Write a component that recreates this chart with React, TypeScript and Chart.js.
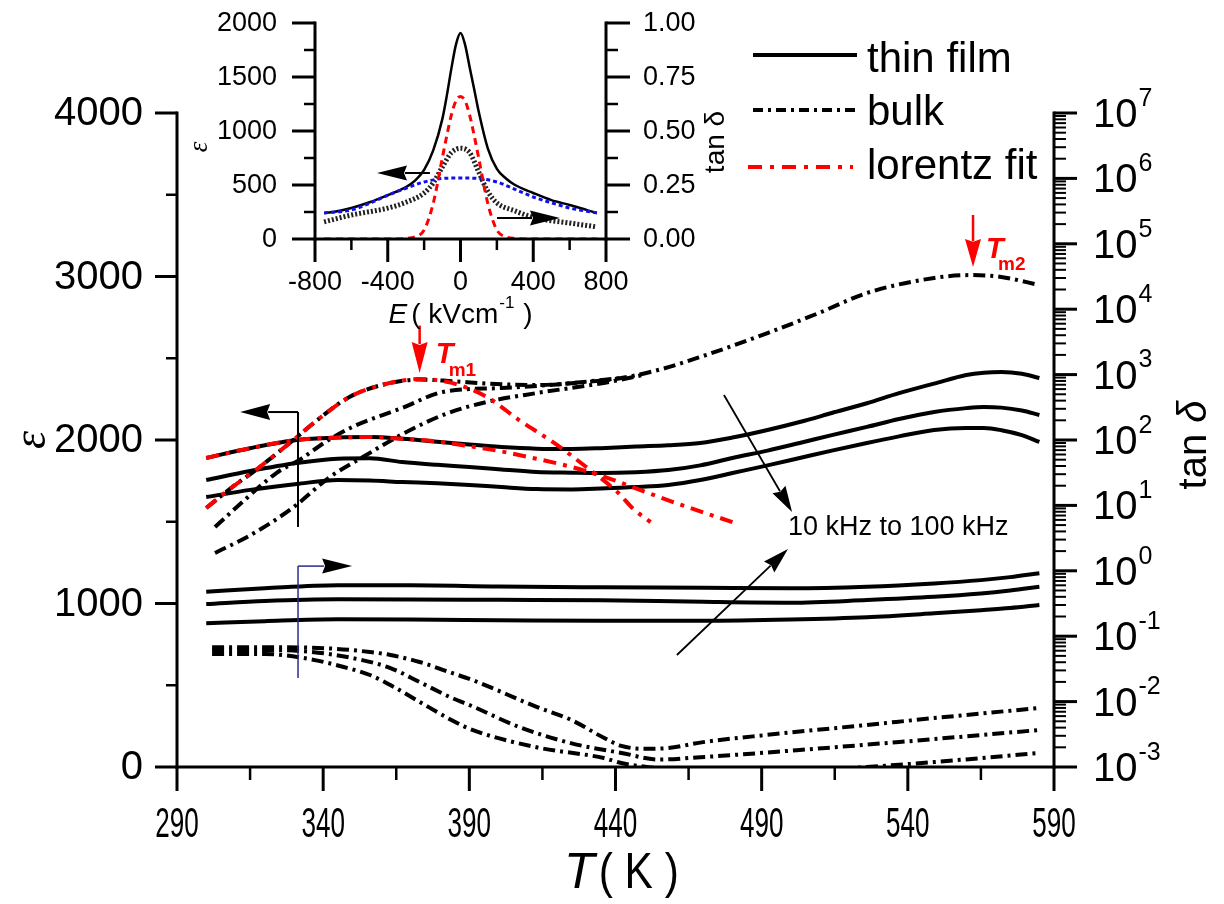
import React, { useEffect, useRef } from 'react';
import { Chart, registerables } from 'chart.js';
Chart.register(...registerables);

const FF = '"Liberation Sans", Arial, Helvetica, sans-serif';

// ---------------- main chart data ----------------
// thin film permittivity (three frequencies)
const tfT = [300, 315, 331, 345, 356, 367, 379, 390, 401, 413, 425, 435, 447, 458, 469, 480, 492, 503, 514, 526, 537, 549, 560, 566, 572, 579, 585];
const tfEps1 = [1890, 1950, 2000, 2015, 2018, 2008, 1990, 1972, 1957, 1947, 1945, 1950, 1960, 1968, 1982, 2015, 2061, 2110, 2165, 2225, 2287, 2345, 2398, 2412, 2416, 2405, 2379];
const tfEps2 = [1755, 1810, 1859, 1885, 1888, 1865, 1848, 1835, 1820, 1804, 1800, 1798, 1803, 1816, 1845, 1890, 1935, 1982, 2030, 2080, 2128, 2171, 2195, 2202, 2198, 2180, 2153];
const tfEps3 = [1651, 1695, 1731, 1755, 1752, 1743, 1735, 1725, 1712, 1700, 1698, 1703, 1712, 1725, 1755, 1798, 1845, 1890, 1935, 1982, 2022, 2061, 2073, 2073, 2060, 2030, 1988];

// thin film loss tangent
const tfLossT = [300, 320, 345, 370, 400, 435, 470, 500, 526, 549, 565, 575, 585];
const tfLoss1 = [0.48, 0.54, 0.60, 0.60, 0.575, 0.56, 0.55, 0.54, 0.57, 0.64, 0.72, 0.80, 0.92];
const tfLoss2 = [0.31, 0.345, 0.366, 0.365, 0.36, 0.355, 0.335, 0.325, 0.357, 0.40, 0.45, 0.50, 0.57];
const tfLoss3 = [0.158, 0.17, 0.181, 0.18, 0.176, 0.172, 0.172, 0.18, 0.195, 0.224, 0.25, 0.27, 0.30];

// bulk permittivity
const bkTopT = [300, 309, 317, 329, 338, 349, 360, 373, 384, 396, 413, 430, 442, 455, 469, 492, 510, 526, 549, 562, 572, 585];
const bkTop = [1584, 1713, 1817, 1988, 2122, 2263, 2336, 2370, 2360, 2345, 2336, 2355, 2379, 2430, 2508, 2654, 2780, 2899, 2991, 3009, 2997, 2948];
const bkMidT = [303, 312, 324, 332, 341, 350, 367, 381, 401, 420, 442];
const bkMid = [1468, 1615, 1798, 1880, 1990, 2080, 2196, 2294, 2318, 2340, 2379];
const bkBotT = [303, 314, 322, 331, 342, 354, 367, 382, 396, 413, 436, 450];
const bkBot = [1309, 1407, 1492, 1605, 1770, 1900, 2035, 2160, 2233, 2287, 2349, 2400];

// bulk loss tangent
const bkLossTopT = [302, 320, 342, 356, 363, 373, 384, 391, 413, 425, 436, 442, 450, 458, 470, 492, 526, 549, 585];
const bkLossTop = [0.068, 0.068, 0.065, 0.0573, 0.0516, 0.0403, 0.0274, 0.0214, 0.0083, 0.0052, 0.0028, 0.0021, 0.0019, 0.00195, 0.0024, 0.0031, 0.0044, 0.0056, 0.008];
const bkLossMidT = [302, 320, 335, 350, 363, 373, 384, 391, 407, 425, 442, 455, 469, 503, 537, 585];
const bkLossMid = [0.0615, 0.0615, 0.058, 0.0464, 0.0326, 0.0199, 0.0114, 0.0085, 0.0041, 0.0023, 0.00164, 0.0013, 0.00141, 0.00182, 0.00241, 0.00368];
const bkLossBotT = [302, 320, 335, 347, 356, 363, 373, 384, 391, 413, 436, 442, 455, 470, 500, 526, 549, 585];
const bkLossBot = [0.0534, 0.0534, 0.045, 0.0338, 0.0255, 0.0179, 0.0099, 0.0052, 0.0037, 0.002, 0.00137, 0.00115, 0.00095, 0.0008, 0.00085, 0.001, 0.00119, 0.00164];

// Lorentz fits
const lzBulkT = [300, 309, 317, 329, 338, 349, 360, 373, 384, 396, 407, 419, 430, 441, 446, 452];
const lzBulk = [1584, 1713, 1817, 1988, 2122, 2263, 2336, 2373, 2349, 2263, 2122, 1982, 1835, 1676, 1580, 1498];
const lzFilmT = [300, 315, 331, 345, 355, 367, 379, 390, 401, 413, 425, 437, 449, 463, 480];
const lzFilm = [1890, 1950, 2000, 2015, 2018, 2008, 1990, 1962, 1930, 1885, 1835, 1770, 1690, 1600, 1498];

// axes ticks
const xMajor = [290, 340, 390, 440, 490, 540, 590];
const xMinor = [315, 365, 415, 465, 515, 565];
const yMajor = [0, 1000, 2000, 3000, 4000];
const yMinor = [500, 1500, 2500, 3500];
const rExps = [-3, -2, -1, 0, 1, 2, 3, 4, 5, 6, 7];

// ---------------- inset data ----------------
const inE = [-750, -700, -600, -500, -400, -300, -250, -200, -150, -100, -75, -50, -25, 0, 25, 50, 75, 100, 150, 200, 250, 300, 400, 500, 600, 700, 750];
const inEps = [241, 250, 287, 340, 407, 481, 540, 640, 820, 1110, 1330, 1580, 1800, 1907, 1800, 1593, 1390, 1180, 840, 650, 560, 500, 426, 360, 315, 265, 241];
const blueE = [-750, -600, -500, -400, -300, -200, -100, 0, 100, 200, 300, 400, 500, 600, 750];
const blueFit = [241, 269, 330, 405, 470, 528, 560, 565, 560, 528, 460, 389, 335, 287, 241];
const redE = [-750, -400, -300, -250, -200, -150, -100, -75, -50, -25, 0, 25, 50, 75, 100, 150, 200, 250, 300, 400, 750];
const redFit = [0, 0, 5, 20, 83, 330, 750, 960, 1150, 1280, 1320, 1280, 1150, 960, 750, 330, 83, 20, 5, 0, 0];
const lossE = [-750, -600, -400, -300, -200, -150, -100, -50, 0, 50, 100, 150, 200, 300, 400, 600, 750];
const lossIn = [0.079, 0.111, 0.143, 0.17, 0.213, 0.26, 0.333, 0.40, 0.42, 0.40, 0.31, 0.22, 0.167, 0.13, 0.10, 0.074, 0.056];
const inXMajor = [-800, -400, 0, 400, 800];
const inXMinor = [-600, -200, 200, 600];
const inYMajor = [0, 500, 1000, 1500, 2000];
const inYMinor = [250, 750, 1250, 1750];
const inRMajor = [0, 0.25, 0.5, 0.75, 1.0];
const inRMinor = [0.125, 0.375, 0.625, 0.875];

// ---------------- helpers ----------------
function pts(xs: number[], ys: number[]) {
  return xs.map((x, i) => ({ x, y: ys[i] }));
}
function seg(ctx: CanvasRenderingContext2D, a: number, b: number, c: number, d: number) {
  ctx.beginPath();
  ctx.moveTo(a, b);
  ctx.lineTo(c, d);
  ctx.stroke();
}
function textScaled(ctx: CanvasRenderingContext2D, t: string, x: number, y: number, sx: number, align: CanvasTextAlign) {
  ctx.save();
  ctx.translate(x, y);
  ctx.scale(sx, 1);
  ctx.textAlign = align;
  ctx.fillText(t, 0, 0);
  ctx.restore();
}
function arrow(ctx: CanvasRenderingContext2D, x1: number, y1: number, x2: number, y2: number, headLen: number, headW: number, color: string, lw: number, headColor?: string) {
  const ang = Math.atan2(y2 - y1, x2 - x1);
  const bx = x2 - headLen * Math.cos(ang);
  const by = y2 - headLen * Math.sin(ang);
  ctx.save();
  ctx.setLineDash([]);
  ctx.strokeStyle = color;
  ctx.lineWidth = lw;
  seg(ctx, x1, y1, bx + 2 * Math.cos(ang), by + 2 * Math.sin(ang));
  ctx.fillStyle = headColor || color;
  const nx = Math.sin(ang), ny = -Math.cos(ang);
  const ix = x2 - headLen * 0.9 * Math.cos(ang), iy = y2 - headLen * 0.9 * Math.sin(ang);
  ctx.beginPath();
  ctx.moveTo(x2, y2);
  ctx.lineTo(bx + (headW / 2) * nx, by + (headW / 2) * ny);
  ctx.lineTo(ix, iy);
  ctx.lineTo(bx - (headW / 2) * nx, by - (headW / 2) * ny);
  ctx.closePath();
  ctx.fill();
  ctx.restore();
}

const RED = '#ff0000';
const BULK_DASH = [12, 5, 3, 5];
const LZ_DASH = [13, 7, 4, 7];

function lineDs(data: any[], color: string, yAxisID: string, dash: number[] = [], width = 4) {
  return {
    data,
    borderColor: color,
    backgroundColor: color,
    borderWidth: width,
    borderDash: dash,
    pointRadius: 0,
    fill: false,
    yAxisID,
    cubicInterpolationMode: 'monotone' as const,
  };
}

// ---------------- plugins ----------------
const mainDecor = {
  id: 'mainDecor',
  afterDraw(chart: any) {
    const ctx: CanvasRenderingContext2D = chart.ctx;
    const ca = chart.chartArea;
    const sx = chart.scales.x, sy = chart.scales.y, sr = chart.scales.y2;
    ctx.save();
    ctx.setLineDash([]);
    ctx.strokeStyle = '#000';
    ctx.fillStyle = '#000';
    ctx.lineWidth = 3;
    // axis lines
    seg(ctx, ca.left - 1.5, ca.bottom, ca.right + 1.5, ca.bottom);
    seg(ctx, ca.left, ca.top - 1.5, ca.left, ca.bottom + 1.5);
    seg(ctx, ca.right, ca.top - 1.5, ca.right, ca.bottom + 1.5);
    // bottom ticks
    for (const v of xMajor) { const p = sx.getPixelForValue(v); seg(ctx, p, ca.bottom, p, ca.bottom + 24); }
    ctx.lineWidth = 2.5;
    for (const v of xMinor) { const p = sx.getPixelForValue(v); seg(ctx, p, ca.bottom, p, ca.bottom + 13); }
    ctx.font = `42px ${FF}`;
    ctx.textBaseline = 'middle';
    for (const v of xMajor) textScaled(ctx, String(v), sx.getPixelForValue(v), ca.bottom + 58, 0.62, 'center');
    // left ticks
    ctx.lineWidth = 3;
    for (const v of yMajor) { const p = sy.getPixelForValue(v); seg(ctx, ca.left - 22, p, ca.left, p); }
    ctx.lineWidth = 2.5;
    for (const v of yMinor) { const p = sy.getPixelForValue(v); seg(ctx, ca.left - 11, p, ca.left, p); }
    ctx.font = `40px ${FF}`;
    ctx.textAlign = 'right';
    for (const v of yMajor) ctx.fillText(String(v), ca.left - 34, sy.getPixelForValue(v) + 1);
    // right log ticks
    for (const e of rExps) {
      const v = Math.pow(10, e);
      const p = sr.getPixelForValue(v);
      ctx.lineWidth = 3;
      seg(ctx, ca.right, p, ca.right + 23, p);
      if (e < rExps[rExps.length - 1]) {
        ctx.lineWidth = 2;
        for (let m = 2; m <= 9; m++) {
          const q = sr.getPixelForValue(m * v);
          seg(ctx, ca.right, q, ca.right + 12, q);
        }
      }
    }
    ctx.textAlign = 'left';
    for (const e of rExps) {
      const p = sr.getPixelForValue(Math.pow(10, e));
      ctx.font = `40px ${FF}`;
      const x0 = ca.right + 39;
      ctx.fillText('10', x0, p + 3);
      const w = ctx.measureText('10').width;
      ctx.font = `25px ${FF}`;
      ctx.fillText(String(e), x0 + w + 1, p - 14);
    }
    // axis titles
    ctx.font = `italic 50px ${FF}`;
    const tW = ctx.measureText('T').width;
    ctx.font = `50px ${FF}`;
    const kW = ctx.measureText('( K )').width * 0.85;
    const cx = (ca.left + ca.right) / 2 + 6;
    const x0 = cx - (tW + kW + 4) / 2;
    ctx.textBaseline = 'alphabetic';
    ctx.font = `italic 50px ${FF}`;
    ctx.fillText('T', x0, ca.bottom + 121);
    ctx.font = `50px ${FF}`;
    textScaled(ctx, '( K )', x0 + tW + 4, ca.bottom + 121, 0.85, 'left');

    ctx.save();
    ctx.translate(33, 440);
    ctx.rotate(-Math.PI / 2);
    ctx.font = `italic 46px "Liberation Serif", serif`;
    ctx.textAlign = 'center';
    ctx.textBaseline = 'middle';
    ctx.fillText('ε', 0, 0);
    ctx.restore();

    ctx.save();
    ctx.translate(ca.right + 141, 445);
    ctx.rotate(-Math.PI / 2);
    ctx.textBaseline = 'middle';
    ctx.font = `40px ${FF}`;
    const a1 = ctx.measureText('tan ').width;
    ctx.font = `italic 40px ${FF}`;
    const a2 = ctx.measureText('δ').width;
    ctx.textAlign = 'left';
    ctx.font = `40px ${FF}`;
    ctx.fillText('tan ', -(a1 + a2) / 2, 0);
    ctx.font = `italic 40px ${FF}`;
    ctx.fillText('δ', -(a1 + a2) / 2 + a1, 0);
    ctx.restore();

    // legend
    ctx.lineWidth = 4;
    ctx.strokeStyle = '#000';
    ctx.setLineDash([]);
    seg(ctx, 753, 55, 857, 55);
    ctx.setLineDash([10, 5, 3, 5]);
    seg(ctx, 753, 110, 857, 110);
    ctx.strokeStyle = RED;
    ctx.setLineDash([14, 8, 4, 8]);
    seg(ctx, 748, 167, 853, 167);
    ctx.setLineDash([]);
    ctx.font = `42px ${FF}`;
    ctx.textAlign = 'left';
    ctx.textBaseline = 'alphabetic';
    ctx.fillStyle = '#000';
    ctx.fillText('thin film', 867, 72);
    ctx.fillText('bulk', 867, 125);
    ctx.fillText('lorentz fit', 867, 179);

    // Tm annotations
    const xm1 = sx.getPixelForValue(373);
    const ym1 = sy.getPixelForValue(2700);
    arrow(ctx, xm1, ym1, xm1, sy.getPixelForValue(2410), 31, 16, RED, 2.5);
    ctx.fillStyle = RED;
    ctx.font = `italic bold 29px ${FF}`;
    ctx.fillText('T', xm1 + 16, ym1 + 37);
    ctx.font = `bold 19px ${FF}`;
    ctx.fillText('m1', xm1 + 29, ym1 + 50);

    const xm2 = sx.getPixelForValue(562.3);
    const ym2 = sy.getPixelForValue(3376);
    arrow(ctx, xm2, ym2, xm2, sy.getPixelForValue(3058), 28, 16, RED, 2.5);
    ctx.font = `italic bold 29px ${FF}`;
    ctx.fillText('T', xm2 + 13, ym2 + 43);
    ctx.font = `bold 19px ${FF}`;
    ctx.fillText('m2', xm2 + 25, ym2 + 55);

    // axis-pointer arrows
    const xv = sx.getPixelForValue(331.4);
    const yl = sy.getPixelForValue(2171);
    ctx.strokeStyle = '#000';
    ctx.lineWidth = 2;
    seg(ctx, xv, yl, xv, sy.getPixelForValue(1468));
    arrow(ctx, xv, yl, sx.getPixelForValue(311.6), yl, 30, 16, '#000', 2);
    const yrr = sr.getPixelForValue(1.18);
    ctx.strokeStyle = '#2b2b8f';
    ctx.lineWidth = 1.5;
    seg(ctx, xv, yrr, xv, sr.getPixelForValue(0.023));
    arrow(ctx, xv, yrr, sx.getPixelForValue(349.9), yrr, 30, 15, '#2b2b8f', 1.5, '#000');

    // frequency arrows
    arrow(ctx, sx.getPixelForValue(477.1), sy.getPixelForValue(2275), sx.getPixelForValue(500.4), sy.getPixelForValue(1560), 26, 15, '#000', 1.8);
    arrow(ctx, sx.getPixelForValue(461), sr.getPixelForValue(0.0516), sx.getPixelForValue(499), sr.getPixelForValue(2.15), 26, 15, '#000', 1.8);
    ctx.fillStyle = '#000';
    ctx.font = `27px ${FF}`;
    ctx.textBaseline = 'middle';
    ctx.fillText('10 kHz to 100 kHz', sx.getPixelForValue(499), sy.getPixelForValue(1462));
    ctx.restore();
  },
};

const insetDecor = {
  id: 'insetDecor',
  afterDraw(chart: any) {
    const ctx: CanvasRenderingContext2D = chart.ctx;
    const ca = chart.chartArea;
    const ex = chart.scales.x, ey = chart.scales.y, et = chart.scales.y2;
    ctx.save();
    ctx.setLineDash([]);
    ctx.strokeStyle = '#000';
    ctx.fillStyle = '#000';
    ctx.lineWidth = 3;
    seg(ctx, ca.left - 1.5, ca.bottom, ca.right + 1.5, ca.bottom);
    seg(ctx, ca.left, ca.top - 1.5, ca.left, ca.bottom + 1.5);
    seg(ctx, ca.right, ca.top - 1.5, ca.right, ca.bottom + 1.5);
    for (const v of inXMajor) { const p = ex.getPixelForValue(v); seg(ctx, p, ca.bottom, p, ca.bottom + 23); }
    for (const v of inYMajor) { const p = ey.getPixelForValue(v); seg(ctx, ca.left - 23, p, ca.left, p); }
    for (const v of inRMajor) { const p = et.getPixelForValue(v); seg(ctx, ca.right, p, ca.right + 24, p); }
    ctx.lineWidth = 2.5;
    for (const v of inXMinor) { const p = ex.getPixelForValue(v); seg(ctx, p, ca.bottom, p, ca.bottom + 11); }
    for (const v of inYMinor) { const p = ey.getPixelForValue(v); seg(ctx, ca.left - 11, p, ca.left, p); }
    for (const v of inRMinor) { const p = et.getPixelForValue(v); seg(ctx, ca.right, p, ca.right + 12, p); }
    ctx.font = `27px ${FF}`;
    ctx.textBaseline = 'middle';
    ctx.textAlign = 'center';
    for (const v of inXMajor) ctx.fillText(String(v), ex.getPixelForValue(v), ca.bottom + 44);
    ctx.textAlign = 'right';
    for (const v of inYMajor) ctx.fillText(String(v), ca.left - 38, ey.getPixelForValue(v) + 1);
    ctx.textAlign = 'left';
    for (const v of inRMajor) ctx.fillText(v.toFixed(2), ca.right + 37, et.getPixelForValue(v) + 1);

    // x title: E ( kVcm-1 )
    ctx.textBaseline = 'alphabetic';
    ctx.font = `italic 28px ${FF}`;
    const wE = ctx.measureText('E').width;
    ctx.font = `28px ${FF}`;
    const wA = ctx.measureText('( kVcm').width;
    const wB = ctx.measureText(' )').width;
    ctx.font = `17px ${FF}`;
    const wS = ctx.measureText('-1').width;
    const total = wE + 4 + wA + wS + 2 + wB;
    let xx = (ca.left + ca.right) / 2 - total / 2;
    const by = ca.bottom + 84;
    ctx.font = `italic 28px ${FF}`;
    ctx.fillText('E', xx, by);
    xx += wE + 4;
    ctx.font = `28px ${FF}`;
    ctx.fillText('( kVcm', xx, by);
    xx += wA;
    ctx.font = `17px ${FF}`;
    ctx.fillText('-1', xx + 1, by - 15);
    xx += wS + 2;
    ctx.font = `28px ${FF}`;
    ctx.fillText(' )', xx, by);

    ctx.save();
    ctx.translate(ca.left - 115, 147);
    ctx.rotate(-Math.PI / 2);
    ctx.font = `italic 27px "Liberation Serif", serif`;
    ctx.textAlign = 'center';
    ctx.textBaseline = 'middle';
    ctx.fillText('ε', 0, 0);
    ctx.restore();

    ctx.save();
    ctx.translate(ca.right + 110, 142);
    ctx.rotate(-Math.PI / 2);
    ctx.font = `28px ${FF}`;
    ctx.textAlign = 'center';
    ctx.textBaseline = 'middle';
    ctx.fillText('tan δ', 0, 0);
    ctx.restore();

    // pointer arrows
    const ya = ey.getPixelForValue(611);
    arrow(ctx, ex.getPixelForValue(-168), ya, ex.getPixelForValue(-459), ya, 30, 15, '#000', 2);
    const yb = ey.getPixelForValue(194);
    arrow(ctx, ex.getPixelForValue(201), yb, ex.getPixelForValue(547), yb, 30, 15, '#000', 2);
    ctx.restore();
  },
};

export default function App() {
  const mainRef = useRef<HTMLCanvasElement>(null);
  const insetRef = useRef<HTMLCanvasElement>(null);

  useEffect(() => {
    const main = new Chart(mainRef.current as HTMLCanvasElement, {
      type: 'line',
      data: {
        datasets: [
          lineDs(pts(lzBulkT, lzBulk), RED, 'y', LZ_DASH),
          lineDs(pts(lzFilmT, lzFilm), RED, 'y', LZ_DASH),
          lineDs(pts(tfT, tfEps1), '#000', 'y'),
          lineDs(pts(tfT, tfEps2), '#000', 'y'),
          lineDs(pts(tfT, tfEps3), '#000', 'y'),
          lineDs(pts(bkTopT, bkTop), '#000', 'y', BULK_DASH),
          lineDs(pts(bkMidT, bkMid), '#000', 'y', BULK_DASH),
          lineDs(pts(bkBotT, bkBot), '#000', 'y', BULK_DASH),
          lineDs(pts(tfLossT, tfLoss1), '#000', 'y2'),
          lineDs(pts(tfLossT, tfLoss2), '#000', 'y2'),
          lineDs(pts(tfLossT, tfLoss3), '#000', 'y2'),
          lineDs(pts(bkLossTopT, bkLossTop), '#000', 'y2', BULK_DASH),
          lineDs(pts(bkLossMidT, bkLossMid), '#000', 'y2', BULK_DASH),
          lineDs(pts(bkLossBotT, bkLossBot), '#000', 'y2', BULK_DASH),
        ] as any,
      },
      options: {
        animation: false,
        responsive: false,
        devicePixelRatio: 1,
        layout: { padding: { left: 177, right: 170, top: 113, bottom: 137 } },
        plugins: { legend: { display: false }, tooltip: { enabled: false } },
        events: [],
        scales: {
          x: { type: 'linear', min: 290, max: 590, display: false },
          y: { type: 'linear', min: 0, max: 4000, display: false },
          y2: { type: 'logarithmic', min: 0.001, max: 1e7, display: false },
        },
      } as any,
      plugins: [mainDecor],
    });

    const inset = new Chart(insetRef.current as HTMLCanvasElement, {
      type: 'line',
      data: {
        datasets: [
          lineDs(pts(redE, redFit), RED, 'y', [7, 5], 3),
          lineDs(pts(blueE, blueFit), '#1010ee', 'y', [4, 3], 3),
          lineDs(pts(inE, inEps), '#000', 'y', [], 2.5),
          lineDs(pts(lossE, lossIn), '#222', 'y2', [2, 2], 5),
        ] as any,
      },
      options: {
        animation: false,
        responsive: false,
        devicePixelRatio: 1,
        layout: { padding: { left: 135, right: 134, top: 23, bottom: 91 } },
        plugins: { legend: { display: false }, tooltip: { enabled: false } },
        events: [],
        scales: {
          x: { type: 'linear', min: -800, max: 800, display: false },
          y: { type: 'linear', min: 0, max: 2000, display: false },
          y2: { type: 'linear', min: 0, max: 1, display: false },
        },
      } as any,
      plugins: [insetDecor],
    });

    return () => {
      main.destroy();
      inset.destroy();
    };
  }, []);

  return (
    <div style={{ position: 'absolute', left: 0, top: 0, width: 1224, height: 904, background: '#fff', overflow: 'hidden' }}>
      <canvas ref={mainRef} width={1224} height={904} style={{ position: 'absolute', left: 0, top: 0, width: 1224, height: 904 }} />
      <canvas ref={insetRef} width={560} height={330} style={{ position: 'absolute', left: 180, top: 0, width: 560, height: 330 }} />
    </div>
  );
}
